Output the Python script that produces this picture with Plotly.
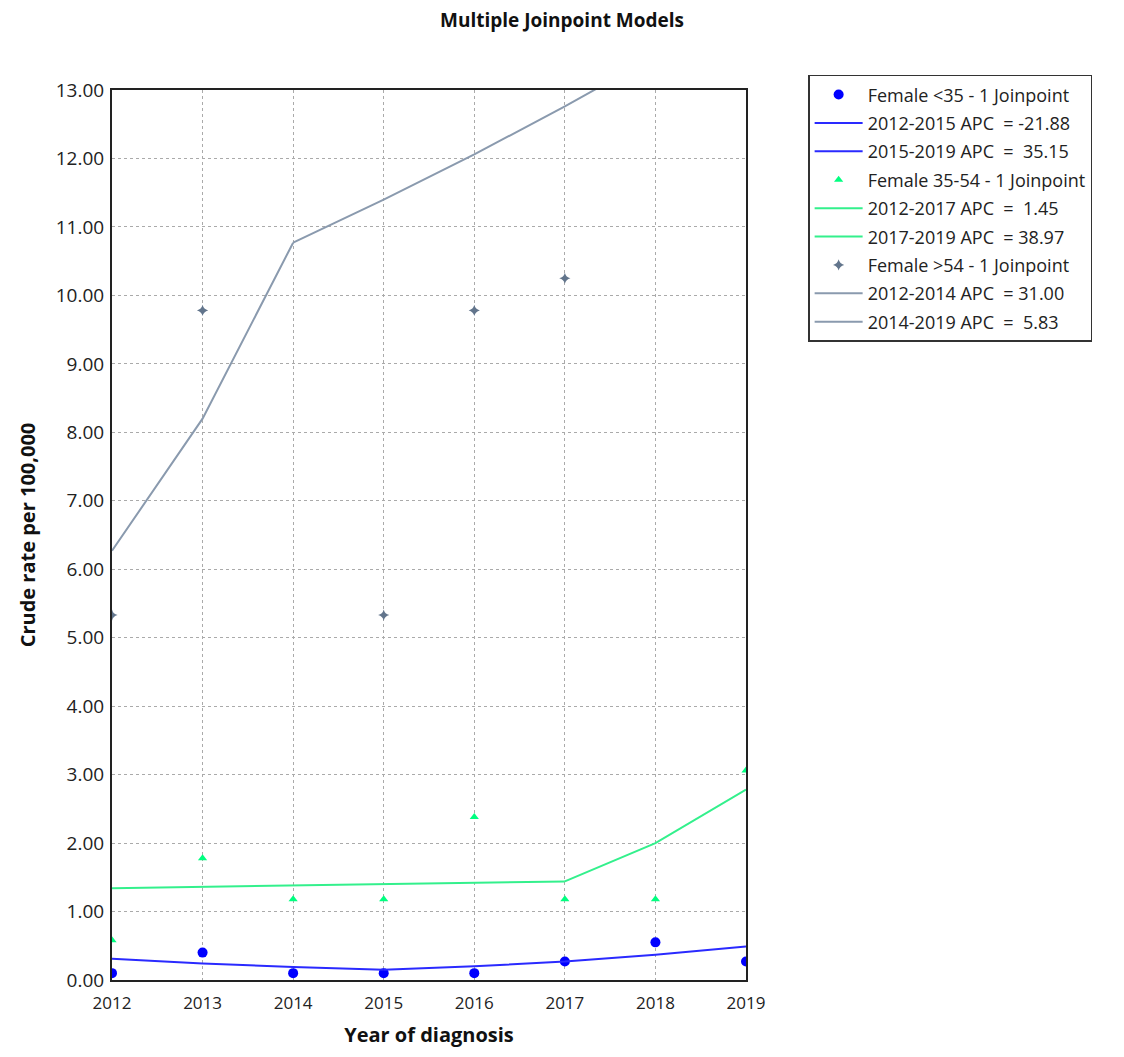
import plotly.graph_objects as go

years = [2012, 2013, 2014, 2015, 2016, 2017, 2018, 2019]

# Observed crude rates
f_lt35_obs = [0.10, 0.40, 0.10, 0.10, 0.10, 0.27, 0.55, 0.27]
f_35_54_obs = [0.58, 1.78, 1.18, 1.18, 2.38, 1.18, 1.18, 3.06]
f_gt54_obs = [5.33, 9.78, None, 5.33, 9.78, 10.25, None, None]

# Joinpoint fitted values
f_lt35_fit = [0.31, 0.24, 0.19, 0.15, 0.20, 0.27, 0.37, 0.49]
f_35_54_fit = [1.34, 1.36, 1.38, 1.40, 1.42, 1.44, 2.00, 2.78]
f_gt54_fit = [6.27, 8.20, 10.77, 11.40, 12.06, 12.76, 13.50, 14.29]

# Segments: (label, start year, end year)
seg_lt35 = [("2012-2015 APC  = -21.88", 2012, 2015), ("2015-2019 APC  =  35.15", 2015, 2019)]
seg_35_54 = [("2012-2017 APC  =  1.45", 2012, 2017), ("2017-2019 APC  = 38.97", 2017, 2019)]
seg_gt54 = [("2012-2014 APC  = 31.00", 2012, 2014), ("2014-2019 APC  =  5.83", 2014, 2019)]

series = [
    ("Female <35 - 1 Joinpoint", f_lt35_obs, f_lt35_fit, seg_lt35,
     dict(symbol="circle", size=10, color="#0000ff"), "#2a2aff"),
    ("Female 35-54 - 1 Joinpoint", f_35_54_obs, f_35_54_fit, seg_35_54,
     dict(symbol="triangle-up", size=8, color="#00ff80"), "#33f08c"),
    ("Female >54 - 1 Joinpoint", f_gt54_obs, f_gt54_fit, seg_gt54,
     dict(symbol="star-diamond", size=8, color="#62758c"), "#8a9aae"),
]

fig = go.Figure()
k = 0
for name, obs, fit, segs, marker, lcolor in series:
    fig.add_trace(go.Scatter(x=years, y=obs, mode="markers", name=name, marker=marker,
                             legendgroup=f"g{k}", cliponaxis=True))
    k += 1
    for label, y0, y1 in segs:
        i0, i1 = years.index(y0), years.index(y1)
        fig.add_trace(go.Scatter(x=years[i0:i1 + 1], y=fit[i0:i1 + 1], mode="lines", name=label,
                                 legendgroup=f"g{k}", line=dict(color=lcolor, width=2)))
        k += 1

fig.update_layout(
    width=1124, height=1057,
    paper_bgcolor="white", plot_bgcolor="white",
    margin=dict(l=112, r=378, t=90, b=77),
    font=dict(family="Open Sans, Noto Sans, sans-serif", color="#222222"),
    title=dict(text="<b>Multiple Joinpoint Models</b>", x=0.5, xref="container", xanchor="center",
               y=0.981, yanchor="middle",
               font=dict(size=19, family="Open Sans, sans-serif", color="#111111")),
    showlegend=True,
    legend=dict(x=1.098, y=1.017, xanchor="left", yanchor="top",
                bordercolor="#333333", borderwidth=1.5, bgcolor="white",
                font=dict(size=18, family="Open Sans, Noto Sans, sans-serif", color="#222222"),
                tracegroupgap=2, itemwidth=48),
)

fig.update_xaxes(range=[2012, 2019], tickmode="array", tickvals=years,
                 ticktext=[str(y) for y in years], automargin=False,
                 showgrid=True, gridcolor="#aaaaaa", griddash="dot", gridwidth=1,
                 showline=True, linecolor="#222222", linewidth=2, mirror=True,
                 ticks="", ticklabelstandoff=7, tickfont=dict(size=17, color="#222222"),
                 title=dict(text="<b>Year of diagnosis</b>",
                            font=dict(size=20, family="Open Sans, sans-serif", color="#111111")),
                 zeroline=False)
fig.update_yaxes(range=[0, 13], dtick=1, tick0=0, tickformat=".2f", automargin=False,
                 showgrid=True, gridcolor="#aaaaaa", griddash="dot", gridwidth=1,
                 showline=True, linecolor="#222222", linewidth=2, mirror=True,
                 ticks="", ticklabelstandoff=2, tickfont=dict(size=19, color="#222222"),
                 title=dict(text="<b>Crude rate per 100,000</b>",
                            font=dict(size=20, family="Open Sans, sans-serif", color="#111111")),
                 zeroline=False)

fig.write_html("out.html")
